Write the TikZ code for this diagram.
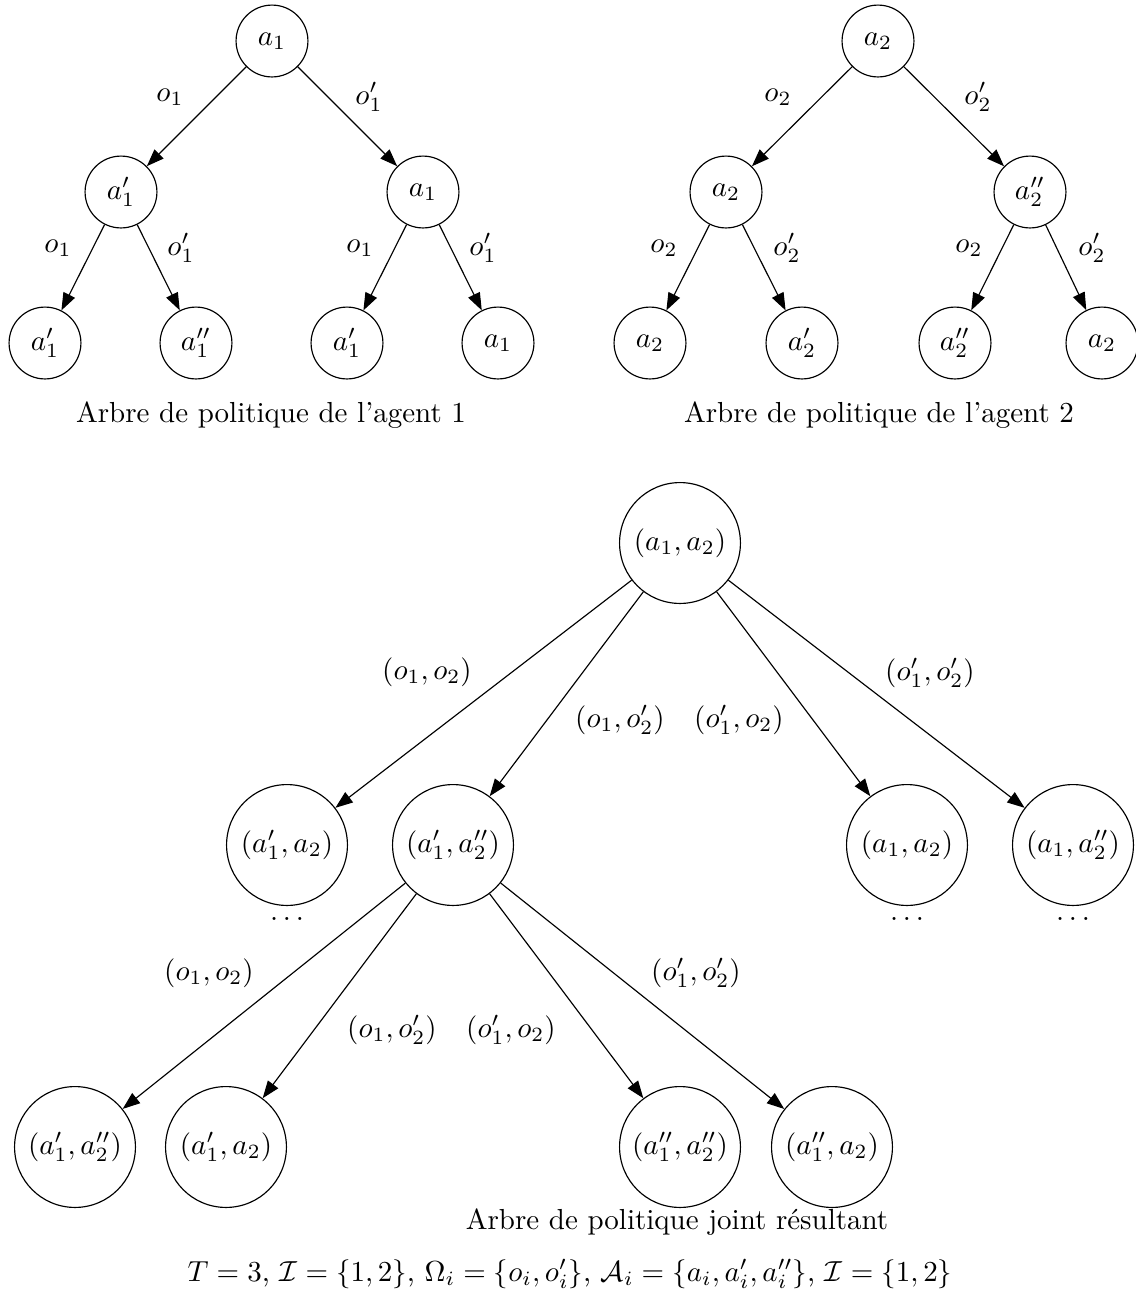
\documentclass[tikz,border=0pt]{standalone}
\usetikzlibrary{arrows.meta}
\begin{document}
\begin{tikzpicture}[x=0.345pt,y=-0.345pt,
  sn/.style={circle,draw,line width=0.4pt,minimum size=24.8pt,inner sep=0pt},
  bn/.style={circle,draw,line width=0.4pt,minimum size=41.7pt,inner sep=0pt},
  arr/.style={-{Triangle[length=6pt,width=4.4pt]},line width=0.4pt},
  lbl/.style={inner sep=0pt}]
\useasboundingbox (0,0) rectangle (1136,1292);

% ---------- Tree of agent 1 ----------
\node[sn] (t1r)  at (272,41)  {$a_1$};
\node[sn] (t1a)  at (121,192) {$a'_1$};
\node[sn] (t1b)  at (423,192) {$a_1$};
\node[sn] (t1aa) at (45,343)  {$a'_1$};
\node[sn] (t1ab) at (196,343) {$a''_1$};
\node[sn] (t1ba) at (347,343) {$a'_1$};
\node[sn] (t1bb) at (498,343) {$a_1$};
\draw[arr] (t1r) -- (t1a);
\draw[arr] (t1r) -- (t1b);
\draw[arr] (t1a) -- (t1aa);
\draw[arr] (t1a) -- (t1ab);
\draw[arr] (t1b) -- (t1ba);
\draw[arr] (t1b) -- (t1bb);
\node[lbl] (t1l1) at (170,97)  {$o_1$};
\node[lbl] (t1l2) at (369,97)  {$o'_1$};
\node[lbl] (t1l3) at (58,248)  {$o_1$};
\node[lbl] (t1l4) at (181,248) {$o'_1$};
\node[lbl] (t1l5) at (360,248) {$o_1$};
\node[lbl] (t1l6) at (483,248) {$o'_1$};
\node (cap1) at (271,415) {Arbre de politique de l’agent 1};

% ---------- Tree of agent 2 ----------
\node[sn] (t2r)  at (878,41)   {$a_2$};
\node[sn] (t2a)  at (726,192)  {$a_2$};
\node[sn] (t2b)  at (1030,192) {$a''_2$};
\node[sn] (t2aa) at (650,343)  {$a_2$};
\node[sn] (t2ab) at (802,343)  {$a'_2$};
\node[sn] (t2ba) at (955,343)  {$a''_2$};
\node[sn] (t2bb) at (1102,343) {$a_2$};
\draw[arr] (t2r) -- (t2a);
\draw[arr] (t2r) -- (t2b);
\draw[arr] (t2a) -- (t2aa);
\draw[arr] (t2a) -- (t2ab);
\draw[arr] (t2b) -- (t2ba);
\draw[arr] (t2b) -- (t2bb);
\node[lbl] (t2l1) at (778,97)  {$o_2$};
\node[lbl] (t2l2) at (978,97)  {$o'_2$};
\node[lbl] (t2l3) at (664,248) {$o_2$};
\node[lbl] (t2l4) at (787,248) {$o'_2$};
\node[lbl] (t2l5) at (969,248) {$o_2$};
\node[lbl] (t2l6) at (1092,248) {$o'_2$};
\node (cap2) at (879,415) {Arbre de politique de l’agent 2};

% ---------- Joint tree ----------
\node[bn] (jr) at (680,543) {$(a_1,a_2)$};
\node[bn] (j1) at (287,845)  {$(a'_1,a_2)$};
\node[bn] (j2) at (453,845)  {$(a'_1,a''_2)$};
\node[bn] (j3) at (907,845)  {$(a_1,a_2)$};
\node[bn] (j4) at (1073,845) {$(a_1,a''_2)$};
\draw[arr] (jr) -- (j1);
\draw[arr] (jr) -- (j2);
\draw[arr] (jr) -- (j3);
\draw[arr] (jr) -- (j4);
\node[lbl] (jl1) at (427,672) {$(o_1,o_2)$};
\node[lbl] (jl2) at (620,720) {$(o_1,o'_2)$};
\node[lbl] (jl3) at (739,720) {$(o'_1,o_2)$};
\node[lbl] (jl4) at (930,673) {$(o'_1,o'_2)$};
\node[lbl] (d1) at (287,919)  {$\ldots$};
\node[lbl] (d3) at (907,919)  {$\ldots$};
\node[lbl] (d4) at (1073,919) {$\ldots$};

\node[bn] (k1) at (75,1147)  {$(a'_1,a''_2)$};
\node[bn] (k2) at (226,1147) {$(a'_1,a_2)$};
\node[bn] (k3) at (680,1147) {$(a''_1,a''_2)$};
\node[bn] (k4) at (832,1147) {$(a''_1,a_2)$};
\draw[arr] (j2) -- (k1);
\draw[arr] (j2) -- (k2);
\draw[arr] (j2) -- (k3);
\draw[arr] (j2) -- (k4);
\node[lbl] (kl1) at (209,973)  {$(o_1,o_2)$};
\node[lbl] (kl2) at (392,1030) {$(o_1,o'_2)$};
\node[lbl] (kl3) at (511,1030) {$(o'_1,o_2)$};
\node[lbl] (kl4) at (696,973)  {$(o'_1,o'_2)$};

\node (cap3) at (677,1222) {Arbre de politique joint résultant};
\node (form) at (570,1274) {$T=3$, $\mathcal{I}=\{1,2\}$, $\Omega_i=\{o_i,o'_i\}$, $\mathcal{A}_i=\{a_i,a'_i,a''_i\}$, $\mathcal{I}=\{1,2\}$};
\end{tikzpicture}
\end{document}
